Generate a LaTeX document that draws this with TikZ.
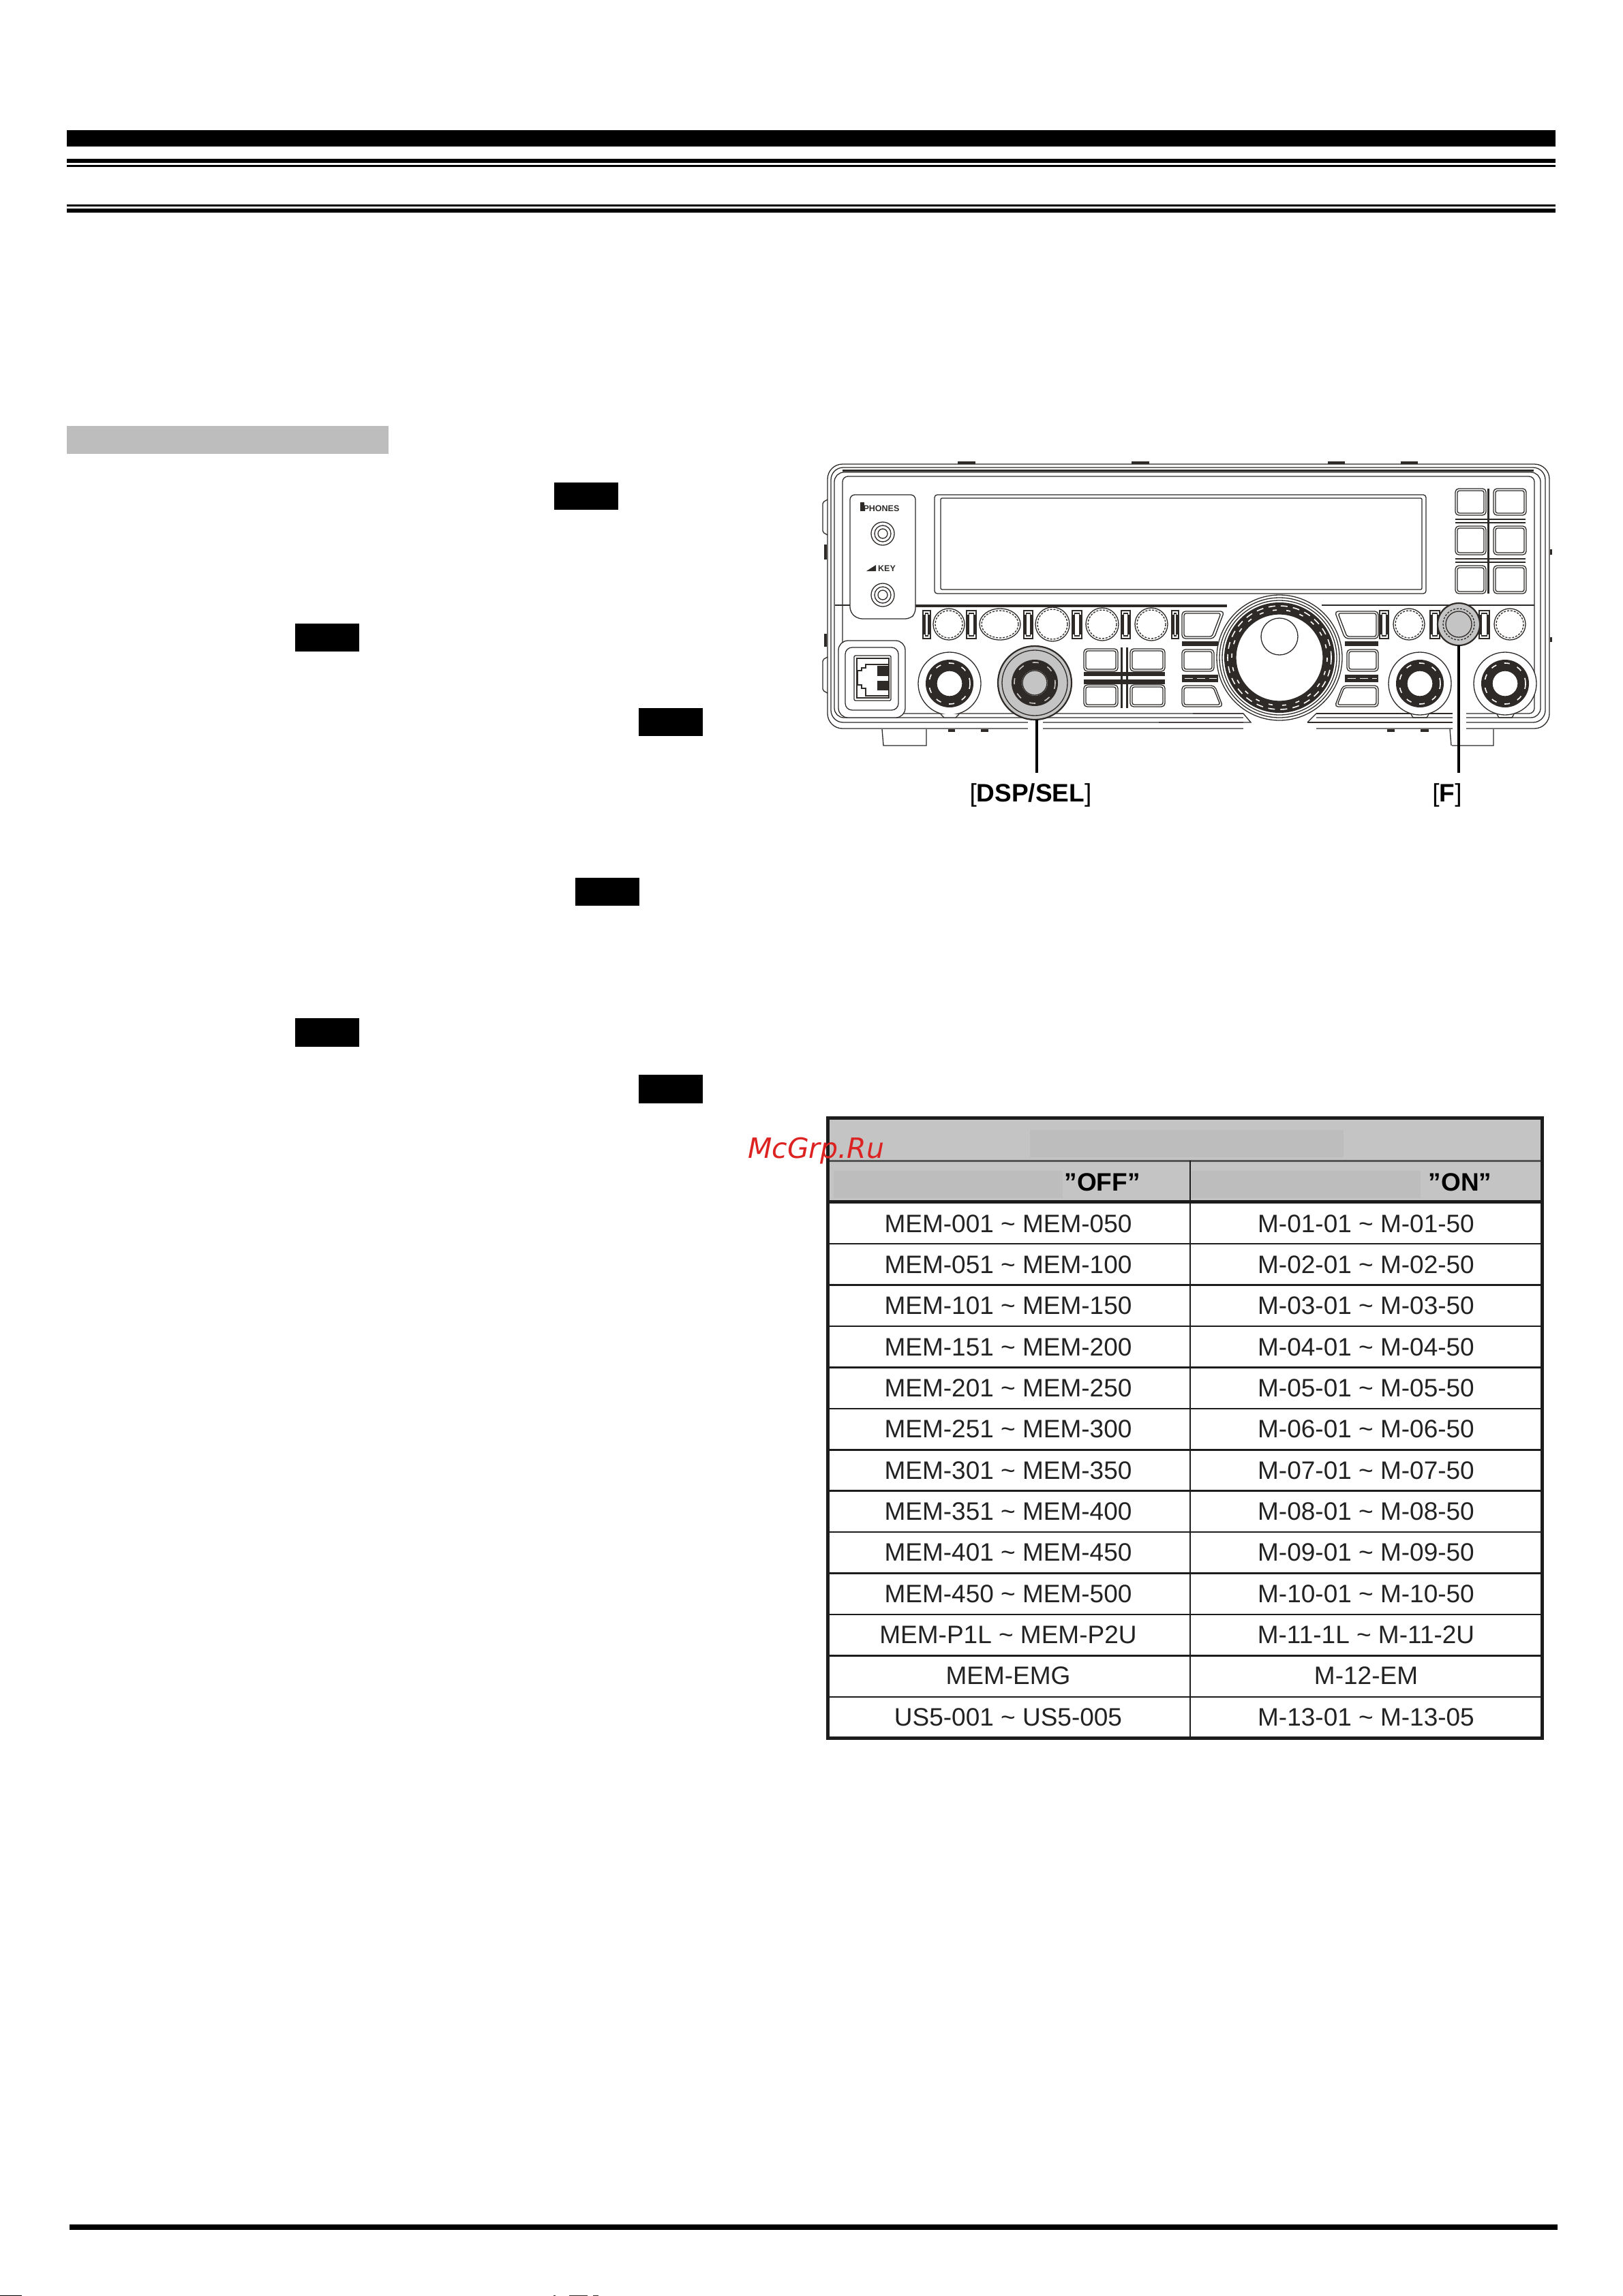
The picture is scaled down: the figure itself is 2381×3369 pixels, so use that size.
\documentclass[tikz,border=0pt]{standalone}
\usepackage{fontspec}
\setmainfont{Liberation Sans}
\newfontfamily\wmfont{DejaVu Sans}
\definecolor{ink}{HTML}{2E2A28}
\definecolor{hdr}{HTML}{C4C4C4}
\definecolor{patch}{HTML}{BDBDBD}
\definecolor{tline}{HTML}{1C1C1C}
\definecolor{wm}{HTML}{DD2222}
\definecolor{txt}{HTML}{222222}
\tikzset{
  blackbar/.style={fill=black},
  ln/.style={draw=ink,line width=1.3pt},
  lnb/.style={draw=ink,line width=2.2pt},
  lead/.style={draw=black,line width=4pt},
  cell/.style={anchor=base,inner sep=0pt,text=txt,font=\fontsize{37}{37}\selectfont},
  hcell/.style={anchor=base,inner sep=0pt,text=black,font=\fontsize{37}{37}\selectfont\bfseries},
  grid1/.style={draw=tline,line width=2.5pt},
  frame1/.style={draw=tline,line width=5pt},
  lbl/.style={anchor=base,inner sep=0pt,text=black,font=\fontsize{37}{37}\selectfont},
  tiny1/.style={anchor=base,inner sep=0pt,text=ink,font=\fontsize{12.5}{12.5}\selectfont\bfseries},
}
% double-line button
\newcommand{\btn}[4]{%
  \draw[ln,rounded corners=5pt] (#1,#2) rectangle (#3,#4);
  \draw[ln,rounded corners=3pt] ({#1+3},{#2+3}) rectangle ({#3-3},{#4-3});}
% small double rectangle between knobs
\newcommand{\slit}[2]{%
  \draw[ln] (#1,896) rectangle (#2,937);
  \draw[ln] ({#1+3.5},900) rectangle ({#2-3.5},933);
  \fill[ink] (#1,902) rectangle ({#1+3.5},931);
  \fill[ink] ({#2-3.5},902) rectangle (#2,931);}
% small knob with a double beaded edge
\newcommand{\rowknob}[3]{%
  \draw[ln,fill=white] (#1,#2) circle [radius=#3];
  \draw[ln,densely dashed] (#1,#2) circle [radius={#3-3}];}
% control knob with dark ring
\newcommand{\ring}[5]{%
  \path[fill=ink,even odd rule] (#1,#2) circle [radius=#3] (#1,#2) circle [radius=#4];
  \draw[white,line width=1.6pt,dash pattern=on 8pt off 12pt] (#1,#2) circle [radius={#3-5}];
  \draw[#5,fill=white] (#1,#2) circle [radius=#4];}
\begin{document}
\begin{tikzpicture}[x=1pt,y=-1pt]
\useasboundingbox (0,0) rectangle (2381,3369);
\fill[white] (0,0) rectangle (2381,3369);
% page rules
\fill[blackbar] (98,191) rectangle (2282,215);
\fill[blackbar] (98,233) rectangle (2282,239);
\fill[blackbar] (98,242) rectangle (2282,245);
\fill[blackbar] (98,300) rectangle (2282,303);
\fill[blackbar] (98,306) rectangle (2282,312);
\fill[fill=patch] (98,625) rectangle (570,666);
\fill[blackbar] (102,3264) rectangle (2285,3272);
% black marks
\fill[blackbar] (813,708) rectangle (907,748);
\fill[blackbar] (433,915) rectangle (527,956);
\fill[blackbar] (937,1039) rectangle (1031,1080);
\fill[blackbar] (844,1288) rectangle (938,1329);
\fill[blackbar] (433,1494) rectangle (527,1536);
\fill[blackbar] (937,1577) rectangle (1031,1619);
% page-edge remnants
\fill[blackbar] (0,3367.5) rectangle (32,3369);
\fill[ink] (812,3367.5) rectangle (815,3369);
\fill[ink] (835,3367.5) rectangle (862,3369);
\fill[ink] (870,3367.5) rectangle (878,3369);

% ---------- radio ----------
% tabs
\foreach \a/\b in {1405/1431,1660/1686,1948/1973,2055/2080}{\fill[ink] (\a,677) rectangle (\b,681);}
\foreach \a/\b in {733/785,964/1017}{\draw[ln,rounded corners=2pt] (1214,\a) -- (1207,{\a+4}) -- (1207,{\b-4}) -- (1214,\b);}
\foreach \a/\b in {799/821,930/949}{\fill[ink] (1209,\a) rectangle (1213,\b);}
\foreach \a/\b in {806/814,935/942}{\fill[ink] (2274,\a) rectangle (2277,\b);}
% feet
\draw[ln] (1294,1070) -- (1296,1094) -- (1359,1094) -- (1359,1070);
\draw[ln] (2127,1070) -- (2129,1094) (2130,1094) -- (2191,1094) -- (2191,1070);
\foreach \a/\b in {1391/1401,1439/1450,2035/2046,2084/2096}{\fill[ink] (\a,1070) rectangle (\b,1074);}
% body outlines
\draw[ln,rounded corners=22pt] (1214,1069) -- (1214,681) -- (2273,681) -- (2273,1069) -- cycle;
\draw[ln,rounded corners=18pt] (1219,1060) -- (1219,686) -- (2267,686) -- (2267,1060) -- cycle;
\draw[ln,rounded corners=14pt] (1224,1053) -- (1224,693) -- (2260,693) -- (2260,1053) -- cycle;
\draw[ln,rounded corners=8pt] (1236,1047) -- (1236,699) -- (2251,699) -- (2251,1047) -- cycle;
\fill[ink] (1236,688.5) rectangle (2250,692);
% white gaps at the dial and leader
\fill[white] (1824,1042) rectangle (1931,1072);
\fill[white] (1508,1049) rectangle (1530,1072);
\fill[white] (2131,1043) rectangle (2151,1072);
\draw[ln] (1750,1047) -- (1824,1047) -- (1835,1060) -- (1700,1060);
\draw[ln] (1931,1047) -- (2131,1047);
\draw[ln] (1918,1060) -- (2131,1060);
\draw[ln] (1931,1047) -- (1918,1060);
% front line
\fill[ink] (1343,886.5) rectangle (1800,890.5);
\draw[ln] (1225,888) -- (1247,888);
\draw[ln] (1939,888) -- (2251,888);
% left sub-panel
\draw[ln,fill=white,rounded corners=7pt] (1247,726) -- (1343,726) -- (1343,900) -- (1335,908) -- (1258,908) -- (1247,898) -- cycle;
\node[tiny1] (phones) at (1293,750) {PHONES};
\fill[ink] (1262,737) rectangle (1268,750);
\node[tiny1] (key) at (1301,838) {KEY};
\fill[ink] (1271,838) -- (1285,829) -- (1285,838) -- cycle;
\foreach \yy in {783,873}{
  \draw[ln] (1295,\yy) circle [radius=17];
  \draw[ln] (1295,\yy) circle [radius=12];
  \draw[ln] (1295,\yy) circle [radius=7];}
% display
\draw[ln,rounded corners=4pt] (1371,726) rectangle (2092,871);
\draw[ln,rounded corners=2pt] (1380,731) rectangle (2086,865);
% keypad, upper right
\foreach \xa/\xb in {2135/2180,2191/2239}{
  \foreach \ya/\yb in {717/756,772/814,830/871}{\btn{\xa}{\ya}{\xb}{\yb}}}
\fill[ink] (2182,717) rectangle (2185,871);
\foreach \yy in {762,767,820,825}{\fill[ink] (2135,{\yy-1}) rectangle (2238,{\yy+1});}
% row of small knobs
\foreach \a/\b in {1354/1365,1418/1432,1502/1515,1573/1587,1645/1658,1719/1729,2024/2037,2098/2112,2170/2185}{\slit{\a}{\b}}
\foreach \xx/\rr in {1392/23,1544/25,1617/24,1689/24,2067/23,2215/23}{\rowknob{\xx}{916}{\rr}}
\draw[ln,fill=white] (1467,916) ellipse [x radius=30,y radius=23];
\draw[ln,densely dashed] (1467,916) ellipse [x radius=27,y radius=20];
% left buttons beside dial
\draw[ln,rounded corners=5pt] (1734,897) -- (1796,897) -- (1781,937) -- (1734,937) -- cycle;
\draw[ln,rounded corners=3pt] (1737,900) -- (1791,900) -- (1778,934) -- (1737,934) -- cycle;
\fill[ink] (1734,941) rectangle (1787,948);
\btn{1734}{953}{1781}{985}
\fill[ink] (1734,990) rectangle (1787,1001);
\draw[white,line width=1.5pt,dash pattern=on 12pt off 6pt] (1738,995.5) -- (1785,995.5);
\draw[ln,rounded corners=5pt] (1734,1006) -- (1782,1006) -- (1794,1037) -- (1734,1037) -- cycle;
\draw[ln,rounded corners=3pt] (1737,1009) -- (1780,1009) -- (1790,1034) -- (1737,1034) -- cycle;
% right buttons beside dial
\draw[ln,rounded corners=5pt] (1958,897) -- (2022,897) -- (2022,937) -- (1973,937) -- cycle;
\draw[ln,rounded corners=3pt] (1963,900) -- (2019,900) -- (2019,934) -- (1976,934) -- cycle;
\fill[ink] (1973,941) rectangle (2022,948);
\btn{1976}{953}{2022}{985}
\fill[ink] (1973,990) rectangle (2022,1001);
\draw[white,line width=1.5pt,dash pattern=on 12pt off 6pt] (1977,995.5) -- (2020,995.5);
\draw[ln,rounded corners=5pt] (1970,1006) -- (2022,1006) -- (2022,1037) -- (1958,1037) -- cycle;
\draw[ln,rounded corners=3pt] (1972,1009) -- (2019,1009) -- (2019,1034) -- (1962,1034) -- cycle;
% main dial
\draw[ln,fill=white] (1877,965) circle [radius=92];
\draw[ln] (1877,965) circle [radius=88];
\draw[ln] (1877,965) circle [radius=84];
\path[fill=ink,even odd rule] (1877,965) circle [radius=81] (1877,965) circle [radius=64];
\draw[white,line width=1.6pt,dash pattern=on 10pt off 8pt] (1877,965) circle [radius=76];
\draw[white,line width=1.6pt,dash pattern=on 6pt off 14pt] (1877,965) circle [radius=70];
\draw[ln,fill=white] (1877,965) circle [radius=64];
\draw[ln] (1877,934) circle [radius=27];
% lower-left connector block
\draw[ln,fill=white,rounded corners=14pt] (1230,940) rectangle (1328,1053);
\draw[ln,rounded corners=10pt] (1240,950) rectangle (1318,1042);
\draw[ln,rounded corners=2pt] (1253,962) rectangle (1307,1028);
\draw[ln] (1257,966) rectangle (1304,1024);
\draw[ln] (1304,975) -- (1270,975) -- (1270,980) -- (1264,980) -- (1264,984) -- (1258,984) -- (1258,1005) -- (1264,1005) -- (1264,1010) -- (1270,1010) -- (1270,1021) -- (1304,1021);
\fill[ink] (1287,977) rectangle (1305,992);
\fill[ink] (1287,999) rectangle (1305,1013);
% four-button cluster
\foreach \xa/\xb in {1590/1640,1658/1709}{
  \foreach \ya/\yb in {952/985,1005/1037}{\btn{\xa}{\ya}{\xb}{\yb}}}
\fill[ink] (1590,986) rectangle (1709,992);
\fill[ink] (1590,997) rectangle (1709,1004);
\fill[white] (1592,993) rectangle (1612,996);
\fill[ink] (1644,950) rectangle (1647,1039);
\fill[ink] (1652,950) rectangle (1655,1039);
% lower knobs
\foreach \xx in {1393,2083,2208}{
  \draw[ln,fill=white] (\xx,1003) circle [radius=46];
  \ring{\xx}{1003}{35}{19}{ln}}
\draw[ln,fill=white] (1380,1048) -- (1385,1053) -- (1402,1053) -- (1407,1048);
\draw[ln] (2070,1048) -- (2073,1053) -- (2093,1053) -- (2096,1048);
\draw[ln] (2196,1048) -- (2199,1053) -- (2218,1053) -- (2221,1048);
% highlighted knobs
\draw[lnb,fill=hdr] (1518,1002) circle [radius=54];
\draw[ln] (1518,1002) circle [radius=48];
\path[fill=ink,even odd rule] (1518,1002) circle [radius=34] (1518,1002) circle [radius=19];
\draw[hdr,line width=1.6pt,dash pattern=on 9pt off 14pt] (1518,1002) circle [radius=30];
\draw[ln,fill=hdr] (1518,1002) circle [radius=18];
\draw[lnb,fill=hdr] (2140,916) circle [radius=31];
\draw[ln,densely dashed] (2140,916) circle [radius=23];
\draw[ln] (2140,916) circle [radius=19];
% leaders and their labels
\coordinate (kDSP) at (1521,1056);
\coordinate (kF) at (2140,947);
\coordinate (eDSP) at (1521,1134);
\coordinate (eF) at (2140,1134);
\node[lbl] (lDSP) at (1512,1176) {[\textbf{DSP/SEL}]};
\node[lbl] (lF) at (2123,1176) {[\textbf{F}]};
\draw[lead] (kDSP) -- (eDSP);
\draw[lead] (kF) -- (eF);

% ---------- table ----------
\fill[hdr] (1214,1640) rectangle (2262,1763);
\fill[patch] (1511,1658) rectangle (1971,1698);
\fill[patch] (1223,1718) rectangle (1559,1758);
\fill[patch] (1748,1718) rectangle (2084,1758);
\foreach \i in {0,...,11}{\draw[grid1] (1214,{1825+60.45*\i}) -- (2262,{1825+60.45*\i});}
\draw[grid1,draw=tline!75!white,line width=3pt] (1214,1703) -- (2262,1703);
\draw[tline,line width=5pt] (1214,1763) -- (2262,1763);
\draw[grid1] (1746,1703) -- (1746,2550);
\draw[frame1] (1214,1640.5) rectangle (2262,2550.5);
\node[hcell] (hoff) at (1617,1747) {"OFF"};
\node[hcell] (hon) at (2142,1747) {"ON"};
\foreach \i/\l/\r in {
 0/MEM-001 \textasciitilde{} MEM-050/M-01-01 \textasciitilde{} M-01-50,
 1/MEM-051 \textasciitilde{} MEM-100/M-02-01 \textasciitilde{} M-02-50,
 2/MEM-101 \textasciitilde{} MEM-150/M-03-01 \textasciitilde{} M-03-50,
 3/MEM-151 \textasciitilde{} MEM-200/M-04-01 \textasciitilde{} M-04-50,
 4/MEM-201 \textasciitilde{} MEM-250/M-05-01 \textasciitilde{} M-05-50,
 5/MEM-251 \textasciitilde{} MEM-300/M-06-01 \textasciitilde{} M-06-50,
 6/MEM-301 \textasciitilde{} MEM-350/M-07-01 \textasciitilde{} M-07-50,
 7/MEM-351 \textasciitilde{} MEM-400/M-08-01 \textasciitilde{} M-08-50,
 8/MEM-401 \textasciitilde{} MEM-450/M-09-01 \textasciitilde{} M-09-50,
 9/MEM-450 \textasciitilde{} MEM-500/M-10-01 \textasciitilde{} M-10-50,
 10/MEM-P1L \textasciitilde{} MEM-P2U/M-11-1L \textasciitilde{} M-11-2U,
 11/MEM-EMG/M-12-EM,
 12/US5-001 \textasciitilde{} US5-005/M-13-01 \textasciitilde{} M-13-05}{
  \node[cell] (a\i) at (1479,{1808+60.35*\i}) {\l};
  \node[cell] (b\i) at (2004,{1808+60.35*\i}) {\r};
}
% watermark
\node[anchor=base west,inner sep=0pt,text=wm,font=\fontsize{41}{41}\wmfont\itshape] (mark) at (1097,1699) {McGrp.Ru};
\end{tikzpicture}
\end{document}
